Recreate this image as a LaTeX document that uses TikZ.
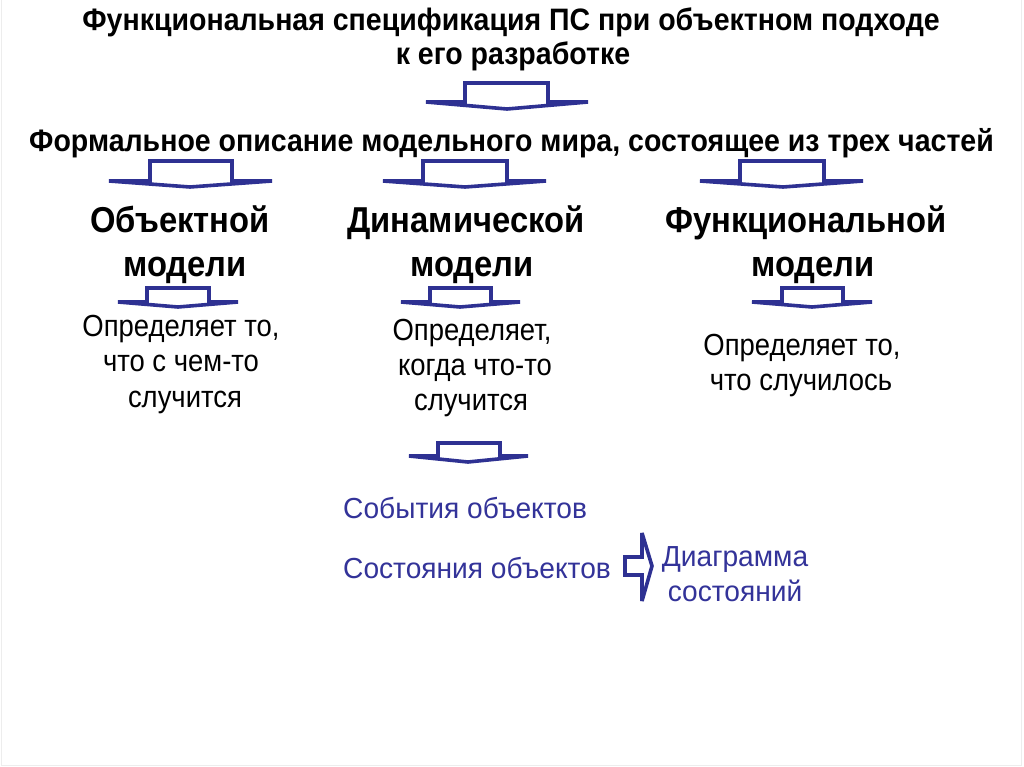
\documentclass[tikz,border=0pt]{standalone}
\usepackage{fontspec}
\setmainfont{Liberation Sans}
\newfontfamily\ttlfont{Liberation Sans}[FakeStretch=0.92]
\newfontfamily\headfont{Liberation Sans}[FakeStretch=0.91]
\newfontfamily\bodyfont{Liberation Sans}[FakeStretch=0.9]
\newfontfamily\bluefont{Liberation Sans}[FakeStretch=0.97]
\definecolor{arrblue}{RGB}{46,49,146}
\definecolor{txtblue}{RGB}{51,51,153}
\newcommand{\bdarrow}[8]{%
  \draw[blockarr] (#1,#6) -- (#2,#6) -- (#2,#5) -- (#3,#5) -- (#3,#6) -- (#4,#6) -- (#8,#7) -- cycle;}
\tikzset{
  blockarr/.style={draw=arrblue, line width=3.6pt, line join=miter, miter limit=3},
  ttl/.style={font=\ttlfont\bfseries\fontsize{31}{36}\selectfont, anchor=base, inner sep=0pt},
  head/.style={font=\headfont\bfseries\fontsize{36}{42}\selectfont, anchor=base, inner sep=0pt},
  body/.style={font=\bodyfont\fontsize{30.5}{36}\selectfont, anchor=base, inner sep=0pt},
  bluetxt/.style={font=\bluefont\fontsize{29}{34}\selectfont, text=txtblue, anchor=base, inner sep=0pt},
}
\begin{document}
\begin{tikzpicture}[x=1pt,y=-1pt]
\useasboundingbox (0,0) rectangle (1024,767);
\fill[white] (0,0) rectangle (1024,767);
\draw[black!7, line width=1pt] (1.5,-2) -- (1.5,765.5) -- (1021.5,765.5) -- (1021.5,-2);
% title
\node[ttl] (t1) at (511,31) {Функциональная спецификация ПС при объектном подходе};
\node[ttl] (t2) at (513,65) {к его разработке};
\node[ttl] (t3) at (511.5,152) {Формальное описание модельного мира, состоящее из трех частей};
% headings
\node[head] (h1a) at (180,233) {Объектной};
\node[head] (h1b) at (185,276) {модели};
\node[head] (h2a) at (466,233) {Динамической};
\node[head] (h2b) at (472,276) {модели};
\node[head] (h3a) at (806,233) {Функциональной};
\node[head] (h3b) at (813,276) {модели};
% body
\node[body] (b1a) at (181,336) {Определяет то,};
\node[body] (b1b) at (181,371) {что с чем-то};
\node[body] (b1c) at (185,407) {случится};
\node[body] (b2a) at (472,340) {Определяет,};
\node[body] (b2b) at (475,375) {когда что-то};
\node[body] (b2c) at (471,410) {случится};
\node[body] (b3a) at (802,355) {Определяет то,};
\node[body] (b3b) at (801,390) {что случилось};
% blue
\node[bluetxt, anchor=base west] (s1) at (343,518) {События объектов};
\node[bluetxt, anchor=base west] (s2) at (343,578) {Состояния объектов};
\node[bluetxt] (d1) at (735,566) {Диаграмма};
\node[bluetxt] (d2) at (735,601) {состояний};
% block arrows
\bdarrow{426}{465}{548}{588}{83}{102}{109}{507}
\bdarrow{109}{150}{232}{272}{161}{181}{187}{190}
\bdarrow{383}{423}{507}{546}{161}{181}{187}{465}
\bdarrow{700}{740}{824}{863}{161}{181}{187}{783}
\bdarrow{118}{147}{209}{238}{288}{302}{307}{178}
\bdarrow{401}{430}{491}{520}{288}{302}{307}{460}
\bdarrow{752}{782}{843}{872}{288}{302}{307}{812}
\bdarrow{409}{438}{500}{528}{443}{456}{462}{468}
\draw[blockarr] (625,557) -- (642,557) -- (642,533) -- (652,566) -- (642,601) -- (642,575) -- (625,575) -- cycle;
\end{tikzpicture}
\end{document}
